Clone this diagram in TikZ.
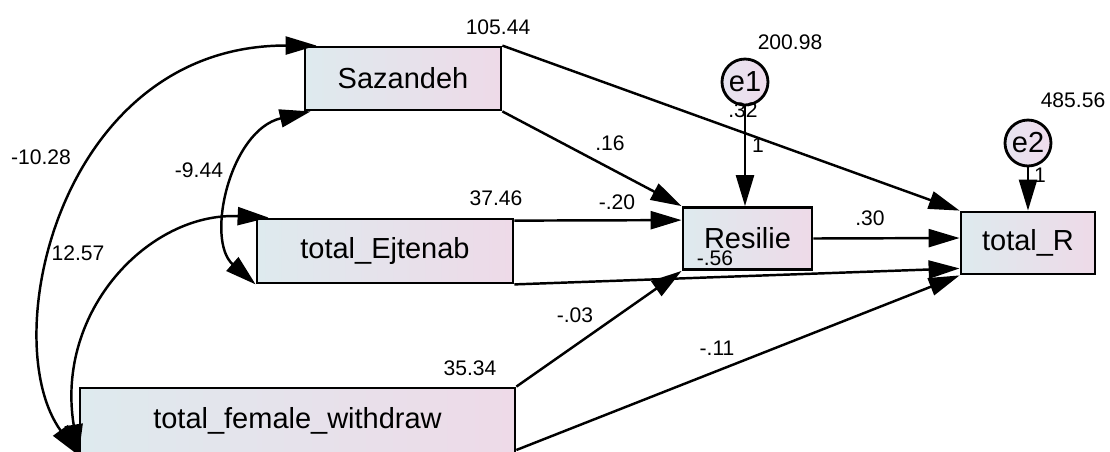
\documentclass[tikz,border=0pt]{standalone}
\usepackage{fontspec}
\setmainfont{Liberation Sans}
\usetikzlibrary{arrows.meta}

\definecolor{boxleft}{RGB}{222,234,238}
\definecolor{boxright}{RGB}{238,218,232}
\definecolor{errleft}{RGB}{230,228,240}
\definecolor{errright}{RGB}{240,220,236}

\begin{document}
\begin{tikzpicture}[x=0.02cm,y=-0.02cm]

\tikzstyle{amosbox}=[draw=black,line width=1.6pt,left color=boxleft,right color=boxright,inner sep=0pt,font=\fontsize{16.5}{18}\selectfont]
\tikzstyle{amoserr}=[circle,draw=black,line width=1.6pt,left color=errleft,right color=errright,minimum size=0.92cm,inner sep=0pt,font=\fontsize{16.5}{18}\selectfont]
\tikzstyle{amoslabel}=[inner sep=0pt,font=\fontsize{12}{14}\selectfont]
\tikzstyle{amosline}=[line width=1.4pt,-{Triangle[length=0.62cm,width=0.36cm]}]
\tikzstyle{amoscov}=[line width=1.4pt,{Triangle[length=0.62cm,width=0.36cm]}-{Triangle[length=0.62cm,width=0.36cm]}]

\useasboundingbox (0,0) rectangle (1110,451);

%observed variables
\node[amosbox,minimum width=3.92cm,minimum height=1.26cm] (sa) at (403,78.5) {Sazandeh};
\node[amosbox,minimum width=5.12cm,minimum height=1.28cm] (te) at (385,251) {total\_Ejtenab};
\node[amosbox,minimum width=8.7cm,minimum height=1.32cm]  (tf) at (297.5,421) {total\_female\_withdraw};
\node[amosbox,minimum width=2.58cm,minimum height=1.24cm] (re) at (747.5,238.5) {Resilie};
\node[amosbox,minimum width=2.68cm,minimum height=1.24cm] (tr) at (1028,243) {total\_R};

%errors
\node[amoserr] (e1) at (745,82) {e1};
\node[amoserr] (e2) at (1028,143) {e2};

%covariances
\draw[amoscov] ([xshift=0.26cm]sa.north west) .. controls (60,45) and (-5,340) .. (tf.south west);
\draw[amoscov] ([xshift=0.14cm]sa.south west) .. controls (230,130) and (205,240) .. (te.south west);
\draw[amoscov] ([xshift=0.26cm]te.north west) .. controls (150,212) and (55,310) .. (tf.south west);

%regressions
\path [amosline] (sa.south east) edge (re.north west)
      [amosline] (sa.north east) edge (tr.north west)
      [amosline] ([yshift=-0.06cm]te.north east) edge ([yshift=-0.28cm]re.north west)
      [amosline] (te.south east) edge ([yshift=0.14cm]tr.south west)
      [amosline] (tf.north east) edge (re.south west)
      [amosline] ([yshift=-0.58cm]tf.east) edge (tr.south west)
      [amosline] (re.east) edge ([yshift=0.1cm]tr.west)
      [amosline] (e1.south) edge (e1 |- re.north)
      [amosline] (e2.south) edge (e2 |- tr.north);

%estimates
\node[amoslabel] (vsa) at (498,27) {105.44};
\node[amoslabel] (vte) at (496,198) {37.46};
\node[amoslabel] (vtf) at (470,368) {35.34};
\node[amoslabel] (ve1) at (790,42) {200.98};
\node[amoslabel] (ve2) at (1073,100) {485.56};
\node[amoslabel] (rre) at (743,110) {.32};
\node[amoslabel] (we1) at (758,145) {1};
\node[amoslabel] (we2) at (1040,175) {1};
\node[amoslabel] (csatf) at (41,157) {-10.28};
\node[amoslabel] (csate) at (199,170) {-9.44};
\node[amoslabel] (ctetf) at (78,253) {12.57};
\node[amoslabel] (bsare) at (610,143) {.16};
\node[amoslabel] (btere) at (617,202) {-.20};
\node[amoslabel] (bretr) at (870,218) {.30};
\node[amoslabel] (btetr) at (715,258) {-.56};
\node[amoslabel] (btfre) at (575,315) {-.03};
\node[amoslabel] (btftr) at (717,348) {-.11};

\end{tikzpicture}
\end{document}
